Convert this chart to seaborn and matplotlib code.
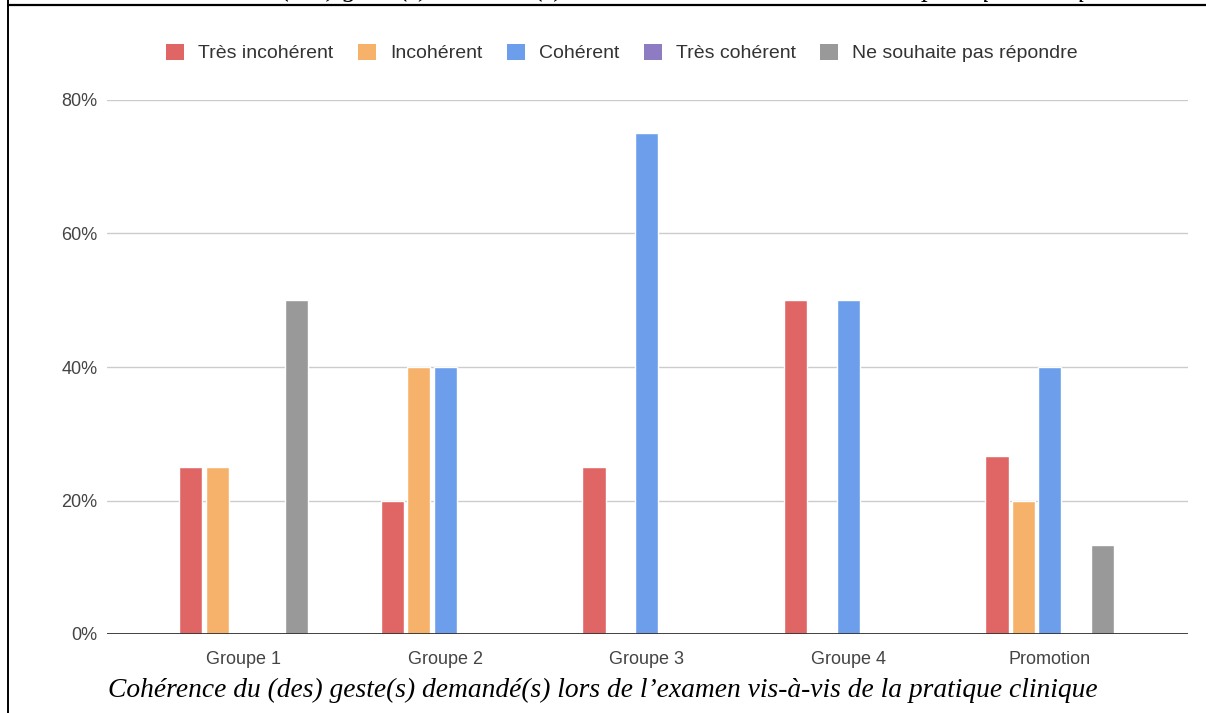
import numpy as np
import pandas as pd
import matplotlib
matplotlib.use("Agg")
import matplotlib.pyplot as plt
from matplotlib.patches import Patch
from matplotlib.lines import Line2D
import seaborn as sns

# ---- data ----
groups = ["Groupe 1", "Groupe 2", "Groupe 3", "Groupe 4", "Promotion"]
series = ["Très incohérent", "Incohérent", "Cohérent", "Très cohérent", "Ne souhaite pas répondre"]
tres_incoherent = [25, 20, 25, 50, 26.67]
incoherent = [25, 40, 0, 0, 20]
coherent = [0, 40, 75, 50, 40]
tres_coherent = [0, 0, 0, 0, 0]
ne_souhaite_pas = [50, 0, 0, 0, 13.33]
yticks = [0, 20, 40, 60, 80]
caption = "Cohérence du (des) geste(s) demandé(s) lors de l’examen vis-à-vis de la pratique clinique"

colors = ["#e06666", "#f6b26b", "#6d9eeb", "#8e7cc3", "#999999"]

values = [tres_incoherent, incoherent, coherent, tres_coherent, ne_souhaite_pas]
rows = []
for s, vals in zip(series, values):
    for g, v in zip(groups, vals):
        rows.append({"groupe": g, "série": s, "valeur": v})
df = pd.DataFrame(rows)

sns.set_theme(style="white")
plt.rcParams["font.family"] = ["Liberation Sans", "DejaVu Sans"]

W, H = 1206, 713
fig = plt.figure(figsize=(W / 100, H / 100), dpi=100)
ax = fig.add_axes([107 / W, 1 - 634 / H, (1188 - 107) / W, (634 - 100) / H])

sns.barplot(data=df, x="groupe", y="valeur", hue="série", hue_order=series,
            order=groups, palette=colors, width=0.655, gap=0.12,
            saturation=1, ax=ax, legend=False, errorbar=None)

ax.set_xlim(-0.678, 4.686)
ax.set_ylim(0, 80)
ax.set_yticks(yticks)
ax.set_yticklabels([f"{t}%" for t in yticks])
ax.set_xlabel("")
ax.set_ylabel("")
for sp in ax.spines.values():
    sp.set_visible(False)
ax.grid(False)
for t in yticks[1:]:
    ax.axhline(t, color="#cccccc", lw=1.0, zorder=0)
ax.axhline(0, color="#333333", lw=1.3, zorder=5)
ax.tick_params(axis="both", length=0, labelsize=13, colors="#444444")
ax.tick_params(axis="y", pad=7)
ax.tick_params(axis="x", pad=12)

handles = [Patch(facecolor=c, edgecolor="none") for c in colors]
fig.legend(handles, series, loc="center", bbox_to_anchor=(622 / W, 1 - 53 / H),
           ncol=5, frameon=False, fontsize=14, handlelength=0.93, handleheight=0.93,
           handletextpad=0.72, columnspacing=1.25, labelcolor="#333333")

# caption
fig.text(603 / W, 1 - 697 / H, caption, ha="center", va="baseline",
         fontfamily="Liberation Serif", style="italic", fontsize=19.8, color="black")
# cut-off text at top of page
fig.text(617 / W, 1 + 3.5 / H, caption, ha="center", va="baseline",
         fontfamily="Liberation Serif", style="italic", fontsize=19.8, color="black")

# page borders
fig.add_artist(Line2D([7.5 / W, 1], [1 - 5 / H, 1 - 5 / H], transform=fig.transFigure,
                      color="black", lw=1.6))
fig.add_artist(Line2D([7.5 / W, 7.5 / W], [0, 1], transform=fig.transFigure,
                      color="black", lw=1.4))

fig.savefig("out.png", dpi=100)
